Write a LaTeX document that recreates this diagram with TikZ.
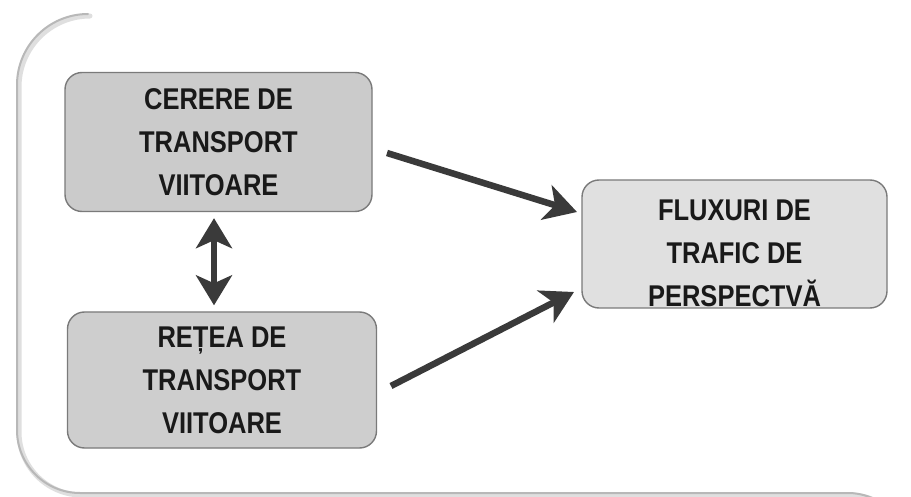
\documentclass[tikz,border=0pt]{standalone}
\usepackage{fontspec}
\setmainfont{Liberation Sans}[FakeStretch=0.85]
\usetikzlibrary{arrows.meta}
\definecolor{boxA}{HTML}{CBCBCB}
\definecolor{boxB}{HTML}{CECECE}
\definecolor{boxC}{HTML}{E0E0E0}
\definecolor{edge}{HTML}{7A7A7A}
\definecolor{arr}{HTML}{3A3A3A}
\definecolor{frame}{HTML}{B8B8B8}
\tikzset{
  boxfont/.style={font=\fontsize{30}{43}\selectfont\bfseries, text=black!90},
  stepbox/.style={draw=edge, line width=1.4pt, rounded corners=17pt,
    minimum width=307pt, minimum height=138pt, align=center, boxfont},
  bigarrow/.style={draw=arr, line width=6.5pt,
    -{Stealth[length=32pt,width=36pt,inset=9pt]}},
  dblarrow/.style={draw=arr, line width=6pt,
    {Stealth[length=30pt,width=36pt,inset=8pt]}-{Stealth[length=30pt,width=36pt,inset=8pt]}},
}
\begin{document}
\begin{tikzpicture}[x=1pt,y=-1pt]
\useasboundingbox (0,0) rectangle (911,497);
\fill[white] (0,0) rectangle (911,497);
% outer frame (shadow + line)
\draw[frame!45, line width=5pt, line cap=round]
  (90,16) arc[start angle=90,end angle=180,radius=71pt] -- (19,432)
  arc[start angle=180,end angle=270,radius=63pt] -- (850,495)
  arc[start angle=90,end angle=15,radius=60pt];
\draw[frame, line width=2pt, line cap=round]
  (88,14) arc[start angle=90,end angle=180,radius=71pt] -- (17,430)
  arc[start angle=180,end angle=270,radius=63pt] -- (848,493)
  arc[start angle=90,end angle=15,radius=60pt];
% boxes
\node[stepbox, fill=boxA, minimum width=307pt, minimum height=139pt] (cerere) at (218.5,142)
  {CERERE DE\\TRANSPORT\\VIITOARE};
\node[stepbox, fill=boxB, minimum width=309pt, minimum height=136pt] (retea) at (222,380)
  {REȚEA DE\\TRANSPORT\\VIITOARE};
\node[stepbox, fill=boxC, minimum width=305pt, minimum height=128pt,
  label={[yshift=-9pt, align=center, boxfont]center:FLUXURI DE\\TRAFIC DE\\PERSPECTVĂ}] (fluxuri) at (734.5,244) {};
% connectors
\coordinate (a1s) at (387,153);
\coordinate (a1e) at (577,212);
\coordinate (a2s) at (391,386);
\coordinate (a2e) at (574,292);
\draw[bigarrow] (a1s) -- (a1e);
\draw[bigarrow] (a2s) -- (a2e);
\draw[dblarrow] ([xshift=-4.5pt,yshift=-6pt]cerere.south) -- ([xshift=-8pt,yshift=6pt]retea.north);
\end{tikzpicture}
\end{document}
